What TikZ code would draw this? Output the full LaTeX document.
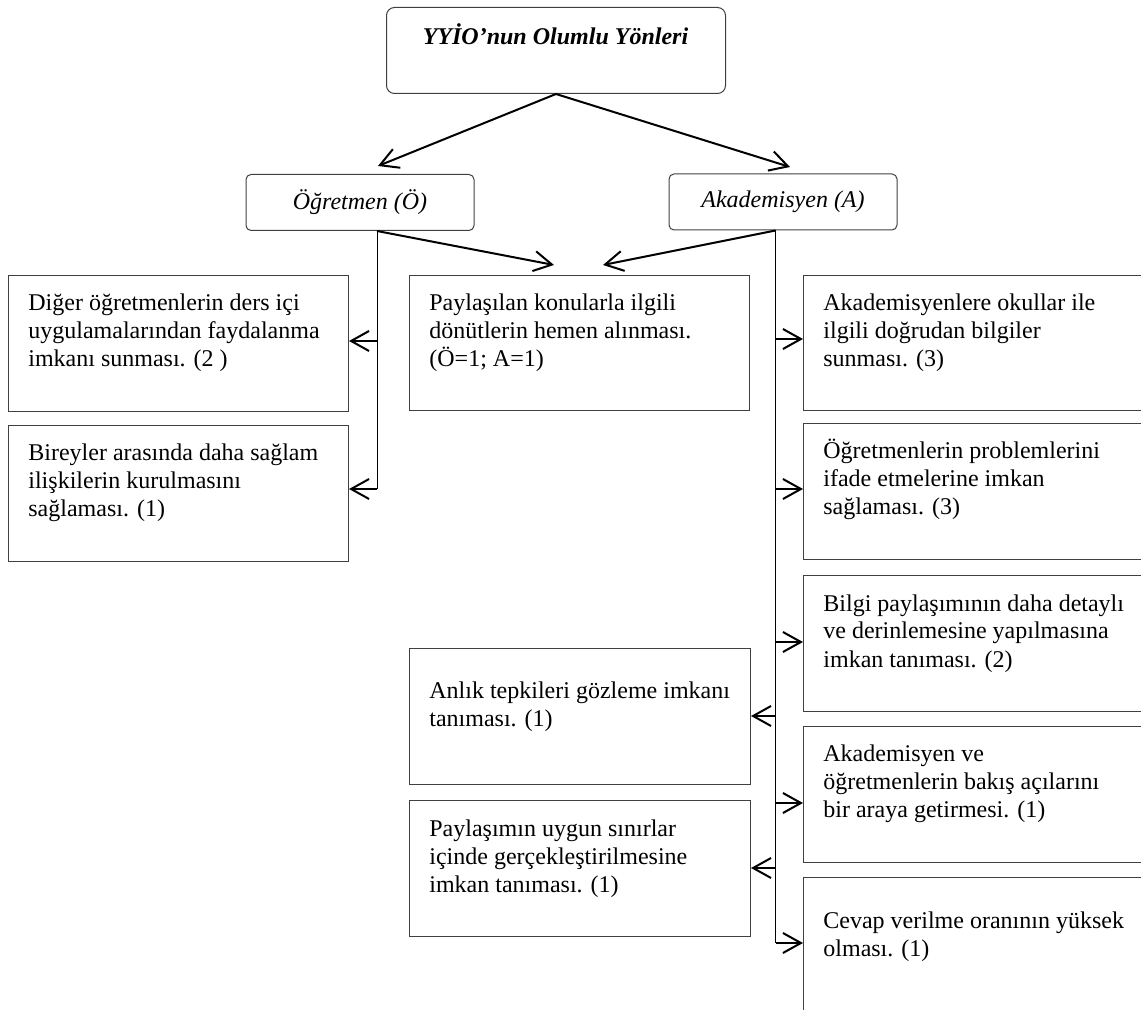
\documentclass[tikz,border=0pt]{standalone}
\usepackage{fontspec}
\setmainfont{Liberation Serif}
\usetikzlibrary{arrows.meta}
\begin{document}
\begin{tikzpicture}[x=0.5pt,y=-0.5pt,
  boxline/.style={draw=black!75, line width=0.5pt},
  plainbox/.style={boxline, anchor=north west, inner sep=0pt},
  roundbox/.style={boxline, rounded corners=2.5pt, inner sep=0pt,
    minimum width=114pt, minimum height=28pt,
    font=\fontsize{12pt}{14pt}\selectfont\itshape},
  boxtext/.style={anchor=north west, inner sep=0pt, align=left,
    font=\fontsize{12pt}{14pt}\selectfont},
  arr/.style={line width=1pt, -{Straight Barb[length=9pt,width=10pt]}},
  spine/.style={line width=0.5pt}]
\useasboundingbox (0,0) rectangle (1141,1010);
\clip (0,0) rectangle (1141,1010);

% title box
\node[boxline, rounded corners=4pt, anchor=north west, inner sep=0pt,
  minimum width=169.5pt, minimum height=43pt] (top) at (386,7) {};
\node[anchor=base, inner sep=0pt,
  font=\fontsize{12pt}{14pt}\selectfont\bfseries\itshape] (title) at (555.5,45)
  {YYİO’nun Olumlu Yönleri};

% the two groups
\node[roundbox] (ogr) at (360,202.5) {Öğretmen (Ö)};
\node[roundbox] (aka) at (783,202) {Akademisyen (A)};

% result boxes
\node[plainbox, minimum width=170pt, minimum height=68pt] (l1) at (8,275) {};
\node[plainbox, minimum width=170pt, minimum height=68pt] (l2) at (8,425) {};
\node[plainbox, minimum width=170pt, minimum height=67.5pt] (cen) at (409,275) {};
\node[plainbox, minimum width=170.5pt, minimum height=68pt] (c2) at (409,648) {};
\node[plainbox, minimum width=170.5pt, minimum height=68pt] (c3) at (409,800) {};
\node[plainbox, minimum width=185pt, minimum height=67.5pt] (r1) at (803,275) {};
\node[plainbox, minimum width=185pt, minimum height=68pt] (r2) at (803,423) {};
\node[plainbox, minimum width=185pt, minimum height=68pt] (r3) at (803,575) {};
\node[plainbox, minimum width=185pt, minimum height=68pt] (r4) at (803,726) {};
\node[plainbox, minimum width=185pt, minimum height=75pt] (r5) at (803,877) {};

% box texts
\node[boxtext] (l1t) at ([shift={(20,15.4)}]l1.north west)
  {\strut Diğer öğretmenlerin ders içi\\uygulamalarından faydalanma\\imkanı sunması. (2 )};
\node[boxtext] (l2t) at ([shift={(20,15.4)}]l2.north west)
  {\strut Bireyler arasında daha sağlam\\ilişkilerin kurulmasını\\sağlaması. (1)};
\node[boxtext] (cent) at ([shift={(20,15.4)}]cen.north west)
  {\strut Paylaşılan konularla ilgili\\dönütlerin hemen alınması.\\(Ö=1; A=1)};
\node[boxtext] (c2t) at ([shift={(20,30)}]c2.north west)
  {\strut Anlık tepkileri gözleme imkanı\\tanıması. (1)};
\node[boxtext] (c3t) at ([shift={(20,16)}]c3.north west)
  {\strut Paylaşımın uygun sınırlar\\içinde gerçekleştirilmesine\\imkan tanıması. (1)};
\node[boxtext] (r1t) at ([shift={(20,15.4)}]r1.north west)
  {\strut Akademisyenlere okullar ile\\ilgili doğrudan bilgiler\\sunması. (3)};
\node[boxtext] (r2t) at ([shift={(20,15.4)}]r2.north west)
  {\strut Öğretmenlerin problemlerini\\ifade etmelerine imkan\\sağlaması. (3)};
\node[boxtext] (r3t) at ([shift={(20,16)}]r3.north west)
  {\strut Bilgi paylaşımının daha detaylı\\ve derinlemesine yapılmasına\\imkan tanıması. (2)};
\node[boxtext] (r4t) at ([shift={(20,15.4)}]r4.north west)
  {\strut Akademisyen ve\\öğretmenlerin bakış açılarını\\bir araya getirmesi. (1)};
\node[boxtext] (r5t) at ([shift={(20,31)}]r5.north west)
  {\strut Cevap verilme oranının yüksek\\olması. (1)};

% connector points
\coordinate (ox) at (377,0);
\coordinate (ax) at (775.5,0);
\coordinate (tipO) at (378,166);
\coordinate (tipA) at (790,167);
\coordinate (tipC1) at (554,265);
\coordinate (tipC2) at (603,265);
\coordinate (l1in) at ([yshift=-33pt]l1.north east);
\coordinate (l2in) at ([yshift=-32pt]l2.north east);
\coordinate (r1in) at ([yshift=-32pt]r1.north west);
\coordinate (r2in) at ([yshift=-33pt]r2.north west);
\coordinate (r3in) at ([yshift=-33.5pt]r3.north west);
\coordinate (r4in) at ([yshift=-38.5pt]r4.north west);
\coordinate (r5in) at ([yshift=-33pt]r5.north west);
\coordinate (c2in) at ([yshift=-34pt]c2.north east);
\coordinate (c3in) at ([yshift=-34pt]c3.north east);

% title to groups
\draw[arr] (top.south) -- (tipO);
\draw[arr] (top.south) -- (tipA);

% shared result
\draw[arr] (ogr.south -| ox) -- (tipC1);
\draw[arr] (aka.south -| ax) -- (tipC2);

% teacher branch
\draw[spine] (ogr.south -| ox) -- (l2in -| ox);
\draw[arr] (l1in -| ox) -- (l1in);
\draw[arr] (l2in -| ox) -- (l2in);

% academic branch
\draw[spine] (aka.south -| ax) -- (r5in -| ax);
\draw[arr] (r1in -| ax) -- (r1in);
\draw[arr] (r2in -| ax) -- (r2in);
\draw[arr] (r3in -| ax) -- (r3in);
\draw[arr] (r4in -| ax) -- (r4in);
\draw[arr] (r5in -| ax) -- (r5in);
\draw[arr] (c2in -| ax) -- (c2in);
\draw[arr] (c3in -| ax) -- (c3in);
\end{tikzpicture}
\end{document}
